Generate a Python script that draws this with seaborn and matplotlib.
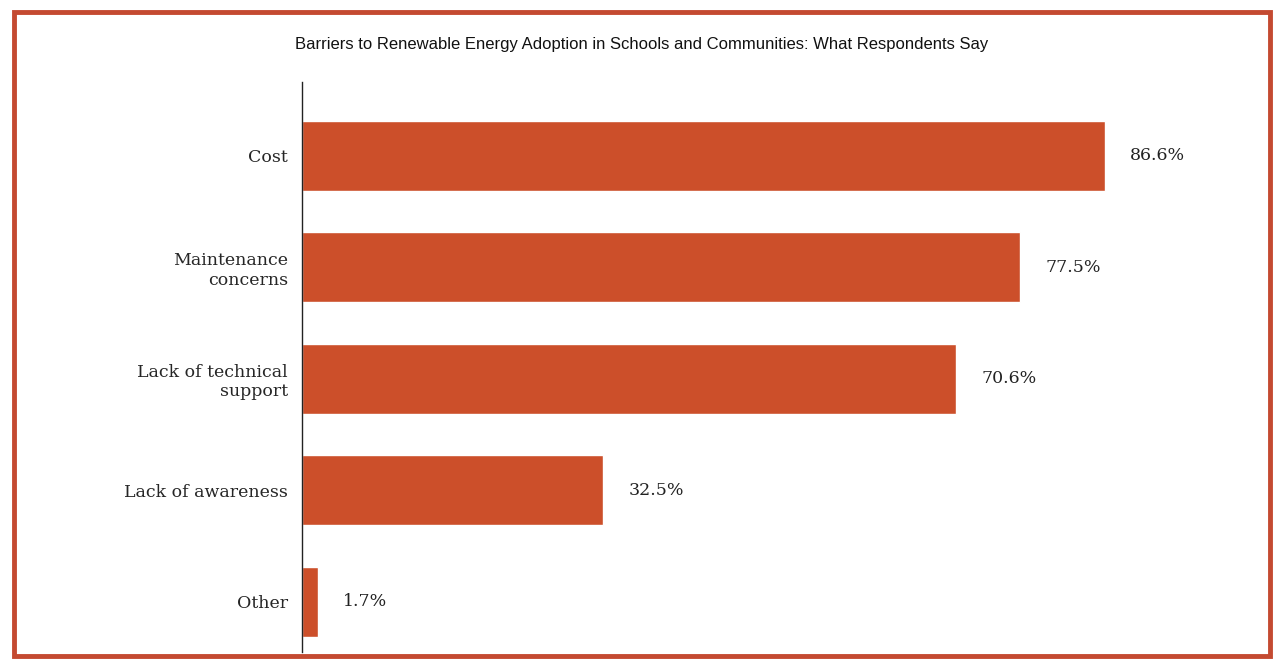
import matplotlib
matplotlib.use("Agg")
import matplotlib.pyplot as plt
import seaborn as sns
import pandas as pd
from matplotlib.patches import Rectangle

categories = ["Cost", "Maintenance\nconcerns", "Lack of technical\nsupport", "Lack of awareness", "Other"]
values = [86.6, 77.5, 70.6, 32.5, 1.7]
labels = ["86.6%", "77.5%", "70.6%", "32.5%", "1.7%"]

sns.set_style("white")
plt.rcParams['font.family'] = ['DejaVu Serif']
df = pd.DataFrame({"cat": categories, "val": values})

fig = plt.figure(figsize=(12.84, 6.68), dpi=100)
ax = fig.add_axes([0.2352, 0.024, 0.722, 0.853])
sns.barplot(data=df, x="val", y="cat", color="#cc4f2a", width=0.63, ax=ax, saturation=1)
ax.set_xlim(0, 100)
ax.set_ylim(4.45, -0.66)
for i, (v, l) in enumerate(zip(values, labels)):
    ax.text(v + 2.7, i, l, va="center", ha="left", fontsize=12.5, color="#222222")
ax.set_xlabel("")
ax.set_ylabel("")
ax.set_xticks([])
ax.tick_params(axis="y", length=0, labelsize=12.5, pad=10)
for s in ["top", "right", "bottom"]:
    ax.spines[s].set_visible(False)
ax.spines["left"].set_color("#222222")
ax.spines["left"].set_linewidth(1)

fig.text(0.5, 1 - 45 / 668, "Barriers to Renewable Energy Adoption in Schools and Communities: What Respondents Say",
         ha="center", va="center", fontsize=12, family=["Liberation Sans"], color="#111111")
fig.patches.append(Rectangle((14 / 1284, 12 / 668), 1256 / 1284, 644 / 668, transform=fig.transFigure,
                             fill=False, edgecolor="#c44a31", linewidth=3.5))
fig.savefig("out.png", dpi=100)
